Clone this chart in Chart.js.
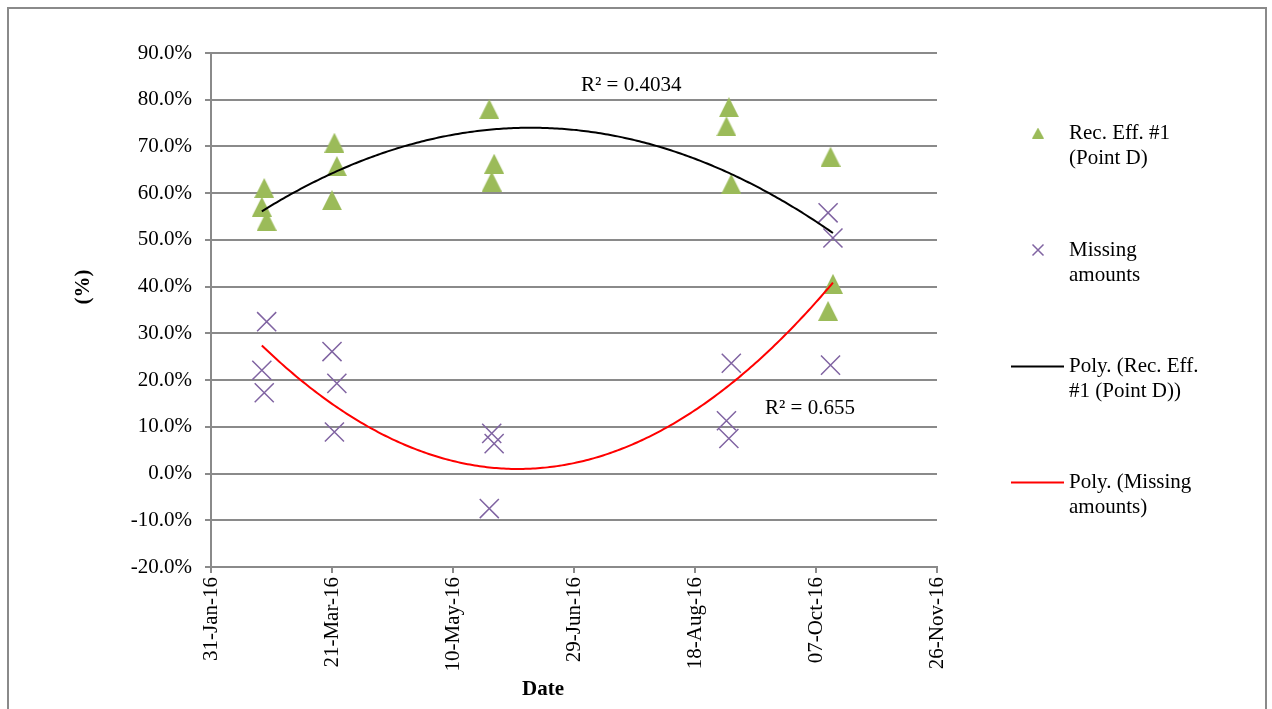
<!DOCTYPE html>
<html>
<head>
<meta charset="utf-8">
<script src="https://cdn.jsdelivr.net/npm/chart.js@4.4.1/dist/chart.umd.min.js"></script>
<style>
    html, body { margin: 0; padding: 0; background: #fff; }
    #wrap { position: relative; width: 1272px; height: 709px; }
</style>
</head>
<body>
<div id="wrap"><canvas id="effChart" width="1272" height="709"></canvas></div>
<script>
// sampling dates (one triangle and one cross per date)
const sampleDates = [
    '2016-02-21', '2016-02-22', '2016-02-23',
    '2016-03-21', '2016-03-22', '2016-03-23',
    '2016-05-25', '2016-05-26', '2016-05-27',
    '2016-08-31', '2016-09-01', '2016-09-02',
    '2016-10-12', '2016-10-13', '2016-10-14'
];
const recEff = [57.1, 61.1, 54.1, 58.5, 70.8, 65.8, 78.0, 62.5, 66.3, 74.3, 78.4, 62.0, 34.8, 67.8, 40.6];
const missingAmounts = [22.1, 17.3, 32.5, 26.1, 8.9, 19.3, -7.5, 8.6, 6.4, 11.3, 7.5, 23.6, 55.8, 23.2, 50.4];

const xTickLabels = ['31-Jan-16', '21-Mar-16', '10-May-16', '29-Jun-16', '18-Aug-16', '07-Oct-16', '26-Nov-16'];
const seriesNames = ['Rec. Eff. #1 (Point D)', 'Missing amounts', 'Poly. (Rec. Eff. #1 (Point D))', 'Poly. (Missing amounts)'];
const r2Labels = ['R\u00b2 = 0.4034', 'R\u00b2 = 0.655'];

const FONT = "'Liberation Serif', 'Times New Roman', serif";
const GRID = '#8a8a8a';

// days since 31-Jan-16 (start of the axis)
const origin = Date.UTC(2016, 0, 31);
const dayNum = s => (Date.parse(s + 'T00:00:00Z') - origin) / 86400000;
const days = sampleDates.map(dayNum);

// 2nd order least squares, same as Excel's Poly. trendline
function polyFit2(xs, ys) {
    let n = xs.length, s1 = 0, s2 = 0, s3 = 0, s4 = 0, t0 = 0, t1 = 0, t2 = 0;
    for (let i = 0; i < n; i++) {
        const x = xs[i], y = ys[i];
        s1 += x; s2 += x * x; s3 += x * x * x; s4 += x * x * x * x;
        t0 += y; t1 += x * y; t2 += x * x * y;
    }
    const m = [[n, s1, s2, t0], [s1, s2, s3, t1], [s2, s3, s4, t2]];
    for (let c = 0; c < 3; c++) {
        for (let r = c + 1; r < 3; r++) {
            const f = m[r][c] / m[c][c];
            for (let k = c; k < 4; k++) m[r][k] -= f * m[c][k];
        }
    }
    const b = [0, 0, 0];
    for (let r = 2; r >= 0; r--) {
        let s = m[r][3];
        for (let k = r + 1; k < 3; k++) s -= m[r][k] * b[k];
        b[r] = s / m[r][r];
    }
    return b;
}

function trendPoints(xs, ys) {
    const c = polyFit2(xs, ys);
    const lo = Math.min(...xs), hi = Math.max(...xs);
    const pts = [];
    for (let d = lo; d <= hi; d += 1) pts.push({ x: d, y: c[0] + c[1] * d + c[2] * d * d });
    return pts;
}

// Excel style triangle, centred on its box
function makeTriangle(w, h, color) {
    const c = document.createElement('canvas');
    c.width = w; c.height = h;
    const g = c.getContext('2d');
    g.fillStyle = color;
    g.beginPath();
    g.moveTo(w / 2, 0);
    g.lineTo(w, h);
    g.lineTo(0, h);
    g.closePath();
    g.fill();
    return c;
}

const GREEN = '#9BBB59', PURPLE = '#8064A2';
const triMarker = makeTriangle(20, 20, GREEN);

// titles, R² labels, legend and frame
const decorPlugin = {
    id: 'decor',
    afterDraw(chart) {
        const ctx = chart.ctx;
        ctx.save();
        // outer frame
        ctx.strokeStyle = '#8a8a8a';
        ctx.lineWidth = 2;
        ctx.strokeRect(8, 8, 1258, 720);

        ctx.fillStyle = '#000';
        ctx.textBaseline = 'middle';
        // axis titles
        ctx.font = 'bold 21px ' + FONT;
        ctx.textAlign = 'center';
        ctx.fillText('Date', 543, 690);
        ctx.save();
        ctx.translate(84, 287);
        ctx.rotate(-Math.PI / 2);
        ctx.fillText('(%)', 0, 0);
        ctx.restore();

        // R² labels
        ctx.font = '21px ' + FONT;
        ctx.textAlign = 'left';
        ctx.fillText(r2Labels[0], 581, 85);
        ctx.fillText(r2Labels[1], 765, 408);

        // legend
        const lx = 1069, mx = 1038;
        const rows = [
            [133, ['Rec. Eff. #1', '(Point D)']],
            [250, ['Missing', 'amounts']],
            [366, ['Poly. (Rec. Eff.', '#1 (Point D))']],
            [482, ['Poly. (Missing', 'amounts)']]
        ];
        rows.forEach(([y, lines]) => {
            lines.forEach((t, i) => ctx.fillText(t, lx, y + i * 25.5));
        });
        ctx.drawImage(makeTriangle(12, 11, GREEN), mx - 6, 133 - 5.5);
        ctx.strokeStyle = PURPLE;
        ctx.lineWidth = 1.5;
        ctx.beginPath();
        ctx.moveTo(mx - 5.5, 250 - 5.5); ctx.lineTo(mx + 5.5, 250 + 5.5);
        ctx.moveTo(mx + 5.5, 250 - 5.5); ctx.lineTo(mx - 5.5, 250 + 5.5);
        ctx.stroke();
        ctx.lineWidth = 2;
        ctx.strokeStyle = '#000';
        ctx.beginPath(); ctx.moveTo(1011, 366.5); ctx.lineTo(1064, 366.5); ctx.stroke();
        ctx.strokeStyle = '#ff0000';
        ctx.beginPath(); ctx.moveTo(1011, 482.5); ctx.lineTo(1064, 482.5); ctx.stroke();
        ctx.restore();
    }
};

const ctx = document.getElementById('effChart').getContext('2d');

new Chart(ctx, {
    type: 'scatter',
    data: {
        datasets: [{
            label: seriesNames[0],
            data: days.map((d, i) => ({ x: d, y: recEff[i] })),
            pointStyle: triMarker,
            pointRadius: 10,
            order: 2
        }, {
            label: seriesNames[1],
            data: days.map((d, i) => ({ x: d, y: missingAmounts[i] })),
            pointStyle: 'crossRot',
            pointRadius: 13.5,
            borderColor: PURPLE,
            backgroundColor: PURPLE,
            pointBorderWidth: 1.5,
            order: 2
        }, {
            label: seriesNames[2],
            data: trendPoints(days, recEff),
            showLine: true,
            pointRadius: 0,
            borderColor: '#000',
            borderWidth: 2,
            order: 1
        }, {
            label: seriesNames[3],
            data: trendPoints(days, missingAmounts),
            showLine: true,
            pointRadius: 0,
            borderColor: '#ff0000',
            borderWidth: 2,
            order: 1
        }]
    },
    options: {
        responsive: false,
        animation: false,
        layout: { padding: { top: 53, right: 335, bottom: 0, left: 0 } },
        plugins: {
            legend: { display: false },
            tooltip: { enabled: false }
        },
        scales: {
            x: {
                type: 'linear',
                min: 0,
                max: 300,
                afterFit: function (scale) { scale.height = 142; },
                grid: { drawOnChartArea: false, color: GRID, lineWidth: 2, tickLength: 6 },
                border: { color: GRID, width: 2 },
                ticks: {
                    stepSize: 50,
                    autoSkip: false,
                    minRotation: 90,
                    maxRotation: 90,
                    padding: 4,
                    color: '#000',
                    font: { family: FONT, size: 21 },
                    callback: function (v) { return xTickLabels[Math.round(v / 50)]; }
                }
            },
            y: {
                min: -20,
                max: 90,
                afterFit: function (scale) { scale.width = 211; },
                grid: { color: GRID, lineWidth: 2, tickLength: 6 },
                border: { color: GRID, width: 2 },
                ticks: {
                    stepSize: 10,
                    padding: 13,
                    color: '#000',
                    font: { family: FONT, size: 21 },
                    callback: function (v) { return v.toFixed(1) + '%'; }
                }
            }
        }
    },
    plugins: [decorPlugin]
});
</script>
</body>
</html>
